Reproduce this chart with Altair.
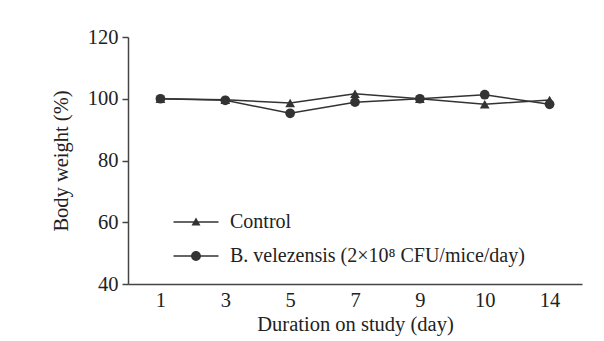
import altair as alt
import pandas as pd

days = ["1", "3", "5", "7", "9", "10", "14"]
control = [100.0, 99.7, 98.6, 101.6, 100.0, 98.2, 99.6]
bvel = [100.0, 99.5, 95.3, 98.9, 100.0, 101.3, 98.2]
series_names = ["Control", "B. velezensis (2×10⁸ CFU/mice/day)"]

rows = []
for d, c, b in zip(days, control, bvel):
    rows.append({"day": d, "series": series_names[0], "value": c})
    rows.append({"day": d, "series": series_names[1], "value": b})
df = pd.DataFrame(rows)

FONT = "Liberation Serif"
INK = "#333333"
FS = 20.5

x_enc = alt.X("day:O", sort=days, scale=alt.Scale(type="point", padding=0.5),
              axis=alt.Axis(title="Duration on study (day)", labelAngle=0, ticks=False,
                            labelPadding=6, titlePadding=4))
y_enc = alt.Y("value:Q", scale=alt.Scale(domain=[40, 120], nice=False, zero=False),
              axis=alt.Axis(title="Body weight (%)", values=[40, 60, 80, 100, 120],
                            tickSize=6, labelPadding=4, titlePadding=16, grid=False))

base = alt.Chart(df)

lines = base.mark_line(color=INK, strokeWidth=1.5).encode(
    x=x_enc, y=y_enc, detail="series:N")

points = base.mark_point(filled=True, size=95, opacity=1, color=INK).encode(
    x=x_enc, y=y_enc,
    shape=alt.Shape("series:N", scale=alt.Scale(domain=series_names, range=["triangle-up", "circle"]),
                    legend=None))

bar = "M-2.5,-0.08H2.5V0.08H-2.5Z"
tri_path = bar + "M0,-0.5L0.5,0.4L-0.5,0.4Z"
circ_path = bar + "M0.55,0A0.55,0.55,0,1,1,-0.55,0A0.55,0.55,0,1,1,0.55,0Z"

legend_layer = base.transform_filter("false").mark_point(
    filled=True, opacity=1, color=INK).encode(
    x=x_enc, y=y_enc,
    shape=alt.Shape("series:N",
                    scale=alt.Scale(domain=series_names, range=[tri_path, circ_path]),
                    legend=alt.Legend(title=None, orient="none", legendX=58, legendY=175,
                                      padding=0, symbolSize=324, labelOffset=24, rowPadding=14,
                                      labelFont=FONT, labelFontSize=20, labelColor="#222222",
                                      symbolFillColor=INK, symbolOpacity=1, labelLimit=450)))

chart = alt.layer(lines, points, legend_layer).resolve_scale(shape="independent").properties(
    width=454, height=247,
    autosize=alt.AutoSizeParams(type="none"),
    padding={"left": 128, "top": 37, "right": 22, "bottom": 57},
    background="white",
).configure_view(stroke=None).configure_axis(
    domainColor="#444444", domainWidth=1.5, tickColor="#444444", tickWidth=1.5,
    labelFont=FONT, labelFontSize=FS, labelColor="#222222",
    titleFont=FONT, titleFontSize=FS, titleFontWeight="normal", titleColor="#222222",
)

chart.save("out.html", embed_options={"renderer": "svg", "actions": False})
